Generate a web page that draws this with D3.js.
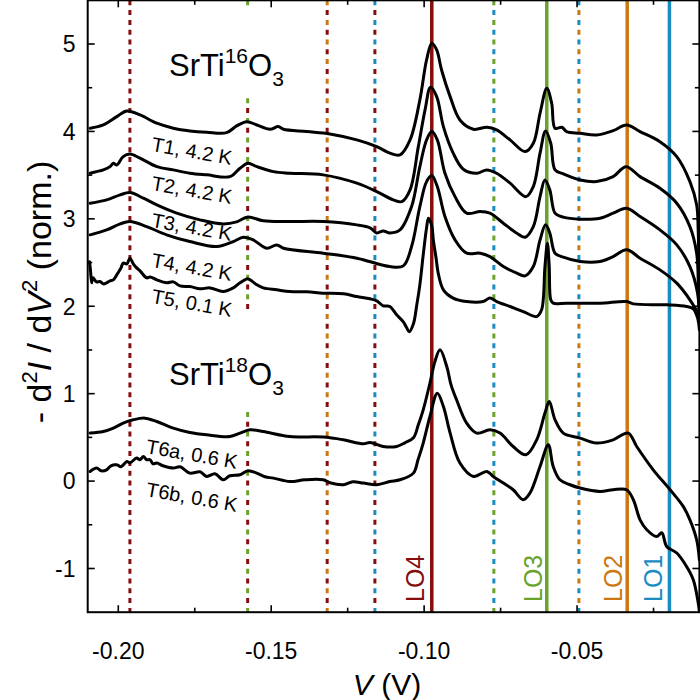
<!DOCTYPE html>
<html><head><meta charset="utf-8">
<script src="https://cdn.jsdelivr.net/npm/d3@7"></script>
<style>html,body{margin:0;padding:0;background:#fff}svg{display:block}</style>
</head><body>
<svg id="c" width="700" height="700"></svg>
<script>
// ---------- data ----------
const xTicks = [-0.20, -0.15, -0.10, -0.05];
const xTickLabels = ["-0.20", "-0.15", "-0.10", "-0.05"];
const xMinorTicks = [-0.175, -0.125, -0.075, -0.025];
const yTicks = [-1, 0, 1, 2, 3, 4, 5];
const yMinorTicks = [-0.5, 0.5, 1.5, 2.5, 3.5, 4.5];

const modeNames = ["LO4", "LO3", "LO2", "LO1"];
const modeV = [-0.0975, -0.0599, -0.0336, -0.0198];
const modeColors = ["#850d0d", "#6aa22c", "#cc7812", "#1a8cc2"];

const comboV = [-0.1962, -0.1577, -0.1317, -0.1161, -0.0772, -0.0494];
const comboModes = [["LO4"], ["LO3", "LO4"], ["LO2", "LO4"], ["LO1", "LO4"], ["LO3", "LO1"], ["LO1", "LO2"]];

const curveNames = ["T1, 4.2 K", "T2, 4.2 K", "T3, 4.2 K", "T4, 4.2 K", "T5, 0.1 K", "T6a, 0.6 K", "T6b, 0.6 K"];

const t1 = [[-0.2092,4.037],[-0.2049,4.074],[-0.2005,4.169],[-0.1972,4.234],[-0.1929,4.189],[-0.1874,4.094],[-0.1820,4.037],[-0.1766,4.006],[-0.1711,3.991],[-0.1646,3.986],[-0.1613,4.063],[-0.1580,4.112],[-0.1547,4.074],[-0.1504,4.025],[-0.1477,4.055],[-0.1460,4.025],[-0.1384,3.998],[-0.1308,3.971],[-0.1220,3.903],[-0.1155,3.826],[-0.1112,3.751],[-0.1079,3.731],[-0.1046,3.903],[-0.1014,4.360],[-0.0992,4.818],[-0.0975,5.009],[-0.0959,4.932],[-0.0943,4.703],[-0.0915,4.398],[-0.0883,4.131],[-0.0839,4.025],[-0.0795,4.048],[-0.0763,4.017],[-0.0719,3.903],[-0.0670,3.769],[-0.0643,3.865],[-0.0621,4.208],[-0.0599,4.494],[-0.0583,4.322],[-0.0572,4.037],[-0.0550,4.048],[-0.0534,3.998],[-0.0490,3.979],[-0.0436,3.960],[-0.0382,4.009],[-0.0338,4.074],[-0.0294,3.998],[-0.0229,3.883],[-0.0174,3.712],[-0.0131,3.426],[-0.0109,3.160],[-0.0104,2.874],[-0.0100,1.822]];

const t2 = [[-0.2092,3.522],[-0.2071,3.540],[-0.2049,3.560],[-0.2027,3.597],[-0.2016,3.636],[-0.2005,3.617],[-0.1984,3.712],[-0.1962,3.743],[-0.1929,3.694],[-0.1874,3.597],[-0.1820,3.560],[-0.1766,3.522],[-0.1711,3.503],[-0.1635,3.483],[-0.1602,3.579],[-0.1576,3.636],[-0.1547,3.597],[-0.1493,3.540],[-0.1439,3.522],[-0.1330,3.503],[-0.1220,3.408],[-0.1155,3.312],[-0.1101,3.217],[-0.1073,3.197],[-0.1046,3.331],[-0.1019,3.826],[-0.0997,4.246],[-0.0979,4.505],[-0.0959,4.398],[-0.0937,4.055],[-0.0905,3.751],[-0.0872,3.568],[-0.0828,3.522],[-0.0795,3.560],[-0.0763,3.522],[-0.0719,3.408],[-0.0667,3.254],[-0.0643,3.369],[-0.0621,3.751],[-0.0603,4.006],[-0.0586,3.865],[-0.0572,3.560],[-0.0545,3.514],[-0.0490,3.445],[-0.0436,3.426],[-0.0382,3.483],[-0.0340,3.597],[-0.0294,3.483],[-0.0229,3.350],[-0.0174,3.179],[-0.0131,2.911],[-0.0109,2.607],[-0.0103,2.188],[-0.0100,1.822]];

const t3 = [[-0.2092,3.179],[-0.2038,3.217],[-0.1994,3.274],[-0.1962,3.300],[-0.1918,3.236],[-0.1874,3.160],[-0.1809,3.065],[-0.1733,2.988],[-0.1657,2.942],[-0.1613,2.965],[-0.1576,3.022],[-0.1526,2.977],[-0.1439,2.969],[-0.1330,2.969],[-0.1220,2.931],[-0.1177,2.897],[-0.1155,2.839],[-0.1134,2.862],[-0.1112,2.839],[-0.1079,2.873],[-0.1041,3.140],[-0.1014,3.597],[-0.0992,3.903],[-0.0975,3.998],[-0.0957,3.903],[-0.0932,3.522],[-0.0899,3.254],[-0.0861,3.065],[-0.0817,3.083],[-0.0785,3.065],[-0.0741,2.950],[-0.0697,2.836],[-0.0670,2.790],[-0.0643,2.911],[-0.0621,3.254],[-0.0605,3.445],[-0.0589,3.331],[-0.0572,3.065],[-0.0545,3.019],[-0.0490,2.996],[-0.0425,3.007],[-0.0382,3.065],[-0.0338,3.122],[-0.0294,3.026],[-0.0229,2.873],[-0.0174,2.702],[-0.0131,2.454],[-0.0106,2.150],[-0.0100,1.822]];

const t4 = [[-0.2092,2.817],[-0.2038,2.873],[-0.1994,2.942],[-0.1962,2.969],[-0.1907,2.911],[-0.1842,2.817],[-0.1766,2.740],[-0.1678,2.683],[-0.1624,2.740],[-0.1591,2.790],[-0.1559,2.759],[-0.1515,2.664],[-0.1482,2.702],[-0.1460,2.664],[-0.1330,2.607],[-0.1220,2.550],[-0.1112,2.454],[-0.1068,2.462],[-0.1041,2.683],[-0.1014,3.140],[-0.0992,3.426],[-0.0975,3.495],[-0.0957,3.369],[-0.0932,3.026],[-0.0899,2.759],[-0.0861,2.607],[-0.0817,2.607],[-0.0785,2.568],[-0.0741,2.454],[-0.0697,2.379],[-0.0670,2.348],[-0.0643,2.454],[-0.0621,2.759],[-0.0603,2.931],[-0.0589,2.836],[-0.0572,2.607],[-0.0545,2.561],[-0.0490,2.511],[-0.0425,2.511],[-0.0382,2.568],[-0.0338,2.645],[-0.0294,2.550],[-0.0229,2.416],[-0.0174,2.264],[-0.0131,2.073],[-0.0106,1.921],[-0.0100,1.822]];

const t5 = [[-0.2094,2.508],[-0.2091,2.416],[-0.2087,2.268],[-0.2083,2.325],[-0.2071,2.279],[-0.2060,2.283],[-0.2049,2.256],[-0.2038,2.268],[-0.2027,2.290],[-0.2016,2.302],[-0.2001,2.382],[-0.1991,2.439],[-0.1984,2.493],[-0.1972,2.485],[-0.1962,2.550],[-0.1951,2.485],[-0.1940,2.439],[-0.1929,2.405],[-0.1907,2.325],[-0.1896,2.336],[-0.1874,2.302],[-0.1842,2.268],[-0.1820,2.279],[-0.1798,2.233],[-0.1766,2.225],[-0.1733,2.199],[-0.1700,2.210],[-0.1657,2.168],[-0.1624,2.210],[-0.1602,2.268],[-0.1580,2.313],[-0.1569,2.302],[-0.1547,2.245],[-0.1526,2.210],[-0.1482,2.188],[-0.1439,2.168],[-0.1384,2.165],[-0.1330,2.150],[-0.1264,2.142],[-0.1220,2.111],[-0.1177,2.085],[-0.1155,2.062],[-0.1134,2.005],[-0.1112,1.997],[-0.1090,1.902],[-0.1068,1.822],[-0.1057,1.753],[-0.1049,1.707],[-0.1035,1.799],[-0.1024,2.016],[-0.1014,2.245],[-0.1003,2.588],[-0.0992,2.897],[-0.0986,3.007],[-0.0975,2.919],[-0.0970,2.759],[-0.0961,2.553],[-0.0954,2.379],[-0.0937,2.188],[-0.0905,2.093],[-0.0861,2.054],[-0.0807,2.054],[-0.0785,2.093],[-0.0763,2.054],[-0.0719,1.997],[-0.0676,1.939],[-0.0632,1.882],[-0.0616,1.959],[-0.0605,2.454],[-0.0597,2.722],[-0.0591,2.454],[-0.0586,2.073],[-0.0578,2.035],[-0.0534,2.035],[-0.0425,2.035],[-0.0338,2.054],[-0.0316,2.027],[-0.0207,2.016],[-0.0142,1.997],[-0.0120,1.970],[-0.0106,1.867],[-0.0100,1.730]];

const t6a = [[-0.2092,0.549],[-0.2049,0.567],[-0.2016,0.606],[-0.1984,0.663],[-0.1951,0.701],[-0.1913,0.720],[-0.1874,0.682],[-0.1820,0.606],[-0.1766,0.556],[-0.1711,0.529],[-0.1635,0.510],[-0.1602,0.549],[-0.1569,0.587],[-0.1526,0.567],[-0.1439,0.510],[-0.1330,0.503],[-0.1264,0.472],[-0.1199,0.427],[-0.1177,0.441],[-0.1134,0.396],[-0.1090,0.396],[-0.1063,0.438],[-0.1035,0.495],[-0.1019,0.644],[-0.1003,0.815],[-0.0981,1.121],[-0.0965,1.364],[-0.0948,1.501],[-0.0926,1.310],[-0.0912,1.101],[-0.0894,0.930],[-0.0861,0.663],[-0.0828,0.549],[-0.0785,0.587],[-0.0752,0.549],[-0.0709,0.396],[-0.0667,0.301],[-0.0632,0.472],[-0.0605,0.778],[-0.0591,0.910],[-0.0572,0.701],[-0.0545,0.549],[-0.0490,0.492],[-0.0436,0.435],[-0.0382,0.472],[-0.0333,0.549],[-0.0305,0.396],[-0.0251,0.129],[-0.0196,-0.099],[-0.0153,-0.290],[-0.0131,-0.443],[-0.0109,-0.671],[-0.0100,-0.900]];

const t6b = [[-0.2092,0.110],[-0.2071,0.149],[-0.2056,0.118],[-0.2038,0.129],[-0.2024,0.175],[-0.2005,0.186],[-0.1991,0.164],[-0.1972,0.224],[-0.1962,0.209],[-0.1940,0.263],[-0.1929,0.244],[-0.1918,0.281],[-0.1907,0.244],[-0.1896,0.244],[-0.1887,0.198],[-0.1874,0.206],[-0.1854,0.175],[-0.1820,0.149],[-0.1798,0.164],[-0.1766,0.091],[-0.1733,0.106],[-0.1711,0.053],[-0.1684,0.083],[-0.1657,0.015],[-0.1635,0.061],[-0.1602,0.072],[-0.1576,0.118],[-0.1547,0.091],[-0.1520,0.049],[-0.1493,0.034],[-0.1439,-0.005],[-0.1390,0.015],[-0.1330,0.015],[-0.1308,-0.019],[-0.1264,-0.042],[-0.1233,-0.008],[-0.1199,-0.023],[-0.1155,-0.042],[-0.1112,-0.005],[-0.1079,0.015],[-0.1035,0.091],[-0.1020,0.244],[-0.1003,0.435],[-0.0981,0.739],[-0.0957,1.006],[-0.0937,0.853],[-0.0915,0.549],[-0.0883,0.206],[-0.0839,0.053],[-0.0795,0.110],[-0.0774,0.053],[-0.0741,-0.023],[-0.0709,-0.099],[-0.0676,-0.214],[-0.0654,-0.137],[-0.0621,0.167],[-0.0594,0.415],[-0.0578,0.167],[-0.0556,0.015],[-0.0523,-0.042],[-0.0490,-0.080],[-0.0425,-0.119],[-0.0382,-0.099],[-0.0338,-0.099],[-0.0316,-0.214],[-0.0294,-0.443],[-0.0272,-0.557],[-0.0240,-0.634],[-0.0223,-0.591],[-0.0207,-0.748],[-0.0174,-0.823],[-0.0142,-0.977],[-0.0120,-1.129],[-0.0104,-1.392],[-0.0100,-1.495]];

const series = [t1, t2, t3, t4, t5, t6a, t6b];

// ---------- layout ----------
const L = 87.7, R = 699.4, T = 0.3, B = 612.2;
const font = "'Liberation Sans', Arial, sans-serif";
const svg = d3.select("#c");
const x = d3.scaleLinear().domain([-0.21, -0.01]).range([L, R]);
const y = d3.scaleLinear().domain([-1.5, 5.5]).range([B, T]);
const colorOf = n => modeColors[modeNames.indexOf(n)];

svg.append("defs").append("clipPath").attr("id", "clip")
  .append("rect").attr("x", L).attr("y", T).attr("width", R - L).attr("height", B - T);
const plot = svg.append("g").attr("clip-path", "url(#clip)");

// dotted combination lines
comboV.forEach((v, i) => {
  const cols = comboModes[i].map(colorOf);
  if (cols.length === 1) {
    plot.append("line").attr("x1", x(v)).attr("x2", x(v)).attr("y1", T).attr("y2", B)
      .attr("stroke", cols[0]).attr("stroke-width", 3).attr("stroke-dasharray", "5,4.8");
  } else {
    cols.forEach((c, k) => {
      plot.append("line").attr("x1", x(v)).attr("x2", x(v)).attr("y1", T).attr("y2", B)
        .attr("stroke", c).attr("stroke-width", 3).attr("stroke-dasharray", "5,14.6")
        .attr("stroke-dashoffset", -k * 9.8);
    });
  }
});

// white boxes behind material labels
[[165, 8, 135, 88], [165, 311, 135, 96]].forEach(b => {
  plot.append("rect").attr("x", b[0]).attr("y", b[1]).attr("width", b[2]).attr("height", b[3]).attr("fill", "#fff");
});

// solid LO lines
modeV.forEach((v, i) => {
  plot.append("line").attr("x1", x(v)).attr("x2", x(v)).attr("y1", T).attr("y2", B)
    .attr("stroke", modeColors[i]).attr("stroke-width", 3.5);
});

// curves
const line = d3.line().x(d => x(d[0])).y(d => y(d[1])).curve(d3.curveCatmullRom.alpha(0.5));
series.forEach(s => {
  plot.append("path").attr("d", line(s)).attr("fill", "none").attr("stroke", "#000")
    .attr("stroke-width", 3).attr("stroke-linejoin", "round").attr("stroke-linecap", "round");
});

// axes frame
svg.append("rect").attr("x", L).attr("y", T).attr("width", R - L).attr("height", B - T)
  .attr("fill", "none").attr("stroke", "#000").attr("stroke-width", 2);

const ax = svg.append("g").attr("stroke", "#000").attr("stroke-width", 1.6);
xTicks.forEach(v => {
  ax.append("line").attr("x1", x(v)).attr("x2", x(v)).attr("y1", B).attr("y2", B - 7);
  ax.append("line").attr("x1", x(v)).attr("x2", x(v)).attr("y1", T).attr("y2", T + 7);
});
xMinorTicks.forEach(v => {
  ax.append("line").attr("x1", x(v)).attr("x2", x(v)).attr("y1", B).attr("y2", B - 4.5);
  ax.append("line").attr("x1", x(v)).attr("x2", x(v)).attr("y1", T).attr("y2", T + 4.5);
});
yTicks.forEach(v => {
  ax.append("line").attr("x1", L).attr("x2", L + 7).attr("y1", y(v)).attr("y2", y(v));
  ax.append("line").attr("x1", R).attr("x2", R - 7).attr("y1", y(v)).attr("y2", y(v));
});
yMinorTicks.forEach(v => {
  ax.append("line").attr("x1", L).attr("x2", L + 4.5).attr("y1", y(v)).attr("y2", y(v));
  ax.append("line").attr("x1", R).attr("x2", R - 4.5).attr("y1", y(v)).attr("y2", y(v));
});

// tick labels
svg.append("g").selectAll("text").data(xTicks).join("text")
  .attr("x", d => x(d)).attr("y", 659).attr("text-anchor", "middle")
  .attr("font-family", font).attr("font-size", 23).text((d, i) => xTickLabels[i]);
svg.append("g").selectAll("text").data(yTicks).join("text")
  .attr("x", 75.5).attr("y", d => y(d)).attr("dy", "0.36em").attr("text-anchor", "end")
  .attr("font-family", font).attr("font-size", 23).text(d => d);

// axis titles
const xt = svg.append("text").attr("x", 387).attr("y", 695).attr("text-anchor", "middle")
  .attr("font-family", font).attr("font-size", 30);
xt.append("tspan").attr("font-style", "italic").text("V");
xt.append("tspan").text(" (V)");

const yt = svg.append("text").attr("transform", "translate(51,292) rotate(-90)")
  .attr("text-anchor", "middle").attr("font-family", font).attr("font-size", 34);
yt.append("tspan").text("- d");
yt.append("tspan").attr("font-size", 22).attr("dy", -14).text("2");
yt.append("tspan").attr("dy", 14).attr("font-style", "italic").text("I");
yt.append("tspan").text(" / d");
yt.append("tspan").attr("font-style", "italic").text("V");
yt.append("tspan").attr("font-size", 22).attr("dy", -14).text("2");
yt.append("tspan").attr("dy", 14).text(" (norm.)");

// material labels
function material(xp, yp, iso) {
  const t = svg.append("text").attr("x", xp).attr("y", yp).attr("font-family", font).attr("font-size", 31);
  t.append("tspan").text("SrTi");
  t.append("tspan").attr("font-size", 21).attr("dy", -13).text(iso);
  t.append("tspan").attr("dy", 13).text("O");
  t.append("tspan").attr("font-size", 21).attr("dy", 10).text("3");
}
material(169, 76, "16");
material(169, 385, "18");

// curve labels
const labelPos = [[192, 151], [192, 190], [192, 227], [192, 267], [192, 303], [192, 454], [192, 497]];
curveNames.forEach((n, i) => {
  svg.append("text").attr("transform", `translate(${labelPos[i][0]},${labelPos[i][1]}) rotate(10)`)
    .attr("text-anchor", "middle").attr("dy", "0.35em").attr("font-family", font).attr("font-size", 20).text(n);
});

// LO labels
const loBase = [424, 541.5, 621.5, 661.5];
modeNames.forEach((n, i) => {
  svg.append("text").attr("transform", `translate(${loBase[i]},602) rotate(-90)`)
    .attr("font-family", font).attr("font-size", 25).attr("fill", modeColors[i]).text(n);
});
</script>
</body></html>
